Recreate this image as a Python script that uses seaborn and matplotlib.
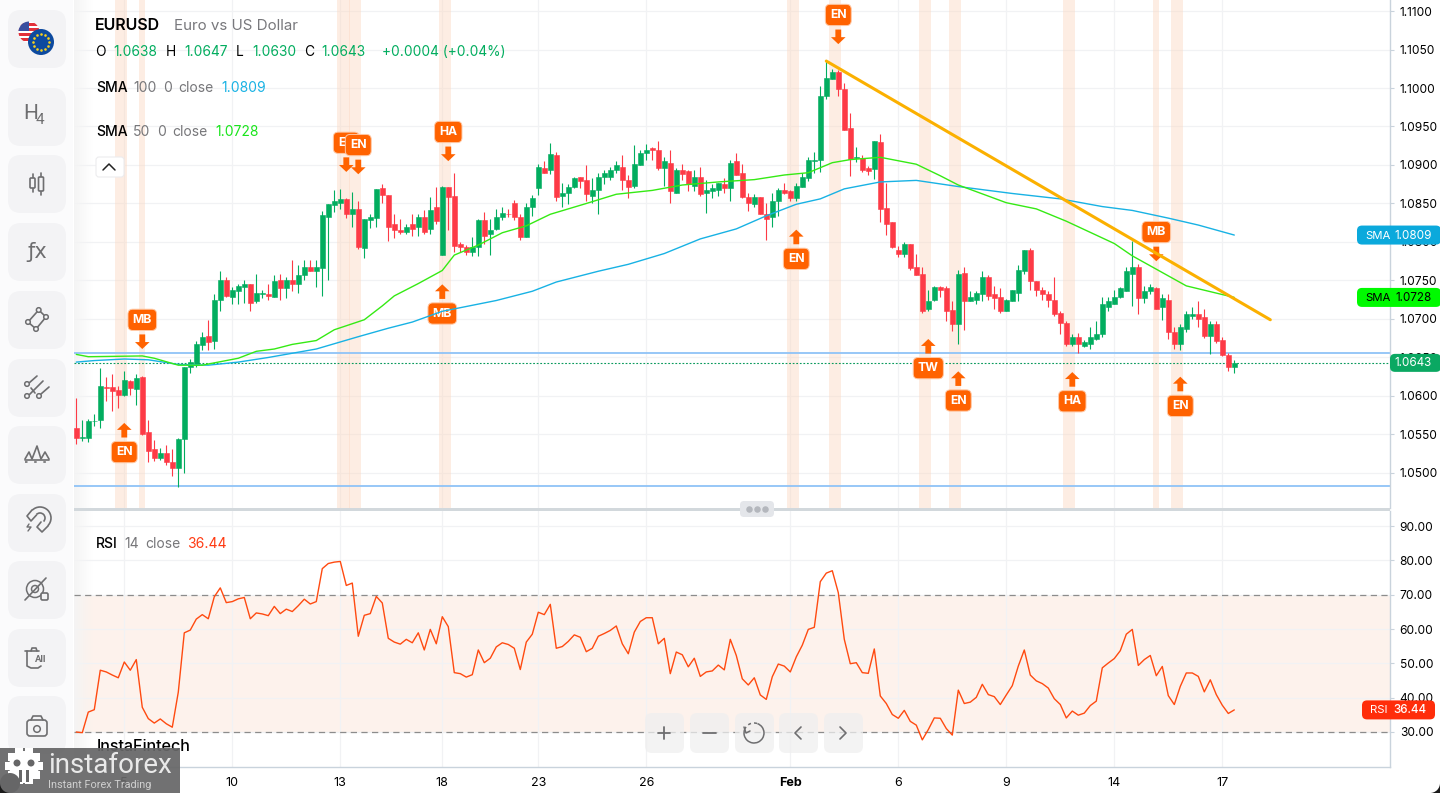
import numpy as np
import pandas as pd
import matplotlib
matplotlib.use("Agg")
import matplotlib.pyplot as plt
import seaborn as sns
from matplotlib.patches import Arc, Circle, FancyBboxPatch, Rectangle

# candles, 4h EURUSD
opens = [
    1.0559, 1.0546, 1.0546, 1.0567, 1.0569, 1.0612, 1.0612, 1.0608, 1.0601, 1.0619,
    1.0609, 1.0625, 1.0553, 1.0531, 1.0519, 1.0526, 1.0514, 1.0507, 1.0544, 1.0637,
    1.0640, 1.0666, 1.0678, 1.0672, 1.0725, 1.0751, 1.0728, 1.0736, 1.0741, 1.0745,
    1.0723, 1.0733, 1.0733, 1.0729, 1.0750, 1.0740, 1.0750, 1.0745, 1.0757, 1.0767,
    1.0762, 1.0766, 1.0832, 1.0848, 1.0850, 1.0856, 1.0837, 1.0843, 1.0792, 1.0828,
    1.0831, 1.0870, 1.0861, 1.0823, 1.0815, 1.0813, 1.0823, 1.0819, 1.0832, 1.0817,
    1.0845, 1.0783, 1.0871, 1.0860, 1.0798, 1.0794, 1.0787, 1.0793, 1.0828, 1.0811,
    1.0817, 1.0832, 1.0837, 1.0850, 1.0832, 1.0806, 1.0845, 1.0870, 1.0896, 1.0893,
    1.0913, 1.0860, 1.0863, 1.0871, 1.0884, 1.0880, 1.0860, 1.0867, 1.0884, 1.0885,
    1.0894, 1.0898, 1.0881, 1.0873, 1.0900, 1.0915, 1.0922, 1.0919, 1.0896, 1.0903,
    1.0864, 1.0893, 1.0892, 1.0873, 1.0884, 1.0863, 1.0866, 1.0867, 1.0875, 1.0870,
    1.0905, 1.0889, 1.0858, 1.0849, 1.0858, 1.0836, 1.0832, 1.0853, 1.0867, 1.0866,
    1.0857, 1.0871, 1.0883, 1.0905, 1.0907, 1.0990, 1.1012, 1.1021, 1.0999, 1.0948,
    1.0909, 1.0909, 1.0896, 1.0895, 1.0930, 1.0844, 1.0826, 1.0789, 1.0784, 1.0798,
    1.0767, 1.0759, 1.0713, 1.0725, 1.0741, 1.0740, 1.0712, 1.0693, 1.0760, 1.0723,
    1.0725, 1.0732, 1.0754, 1.0732, 1.0729, 1.0710, 1.0723, 1.0734, 1.0762, 1.0789,
    1.0749, 1.0737, 1.0733, 1.0725, 1.0708, 1.0695, 1.0668, 1.0677, 1.0665, 1.0668,
    1.0674, 1.0680, 1.0716, 1.0720, 1.0728, 1.0736, 1.0759, 1.0767, 1.0727, 1.0736,
    1.0740, 1.0715, 1.0725, 1.0683, 1.0667, 1.0687, 1.0704, 1.0707, 1.0702, 1.0678,
    1.0694, 1.0673, 1.0653, 1.0638,
]
closes = [
    1.0546, 1.0547, 1.0567, 1.0568, 1.0613, 1.0611, 1.0606, 1.0601, 1.0621, 1.0611,
    1.0623, 1.0550, 1.0528, 1.0519, 1.0526, 1.0514, 1.0506, 1.0544, 1.0638, 1.0644,
    1.0667, 1.0677, 1.0670, 1.0725, 1.0751, 1.0730, 1.0737, 1.0743, 1.0746, 1.0721,
    1.0734, 1.0734, 1.0730, 1.0749, 1.0740, 1.0750, 1.0746, 1.0757, 1.0767, 1.0762,
    1.0767, 1.0835, 1.0849, 1.0853, 1.0856, 1.0836, 1.0843, 1.0793, 1.0830, 1.0832,
    1.0869, 1.0861, 1.0820, 1.0815, 1.0813, 1.0820, 1.0817, 1.0833, 1.0813, 1.0842,
    1.0827, 1.0871, 1.0858, 1.0795, 1.0793, 1.0787, 1.0793, 1.0828, 1.0808, 1.0815,
    1.0833, 1.0838, 1.0836, 1.0832, 1.0806, 1.0845, 1.0857, 1.0897, 1.0890, 1.0914,
    1.0859, 1.0863, 1.0871, 1.0883, 1.0879, 1.0862, 1.0867, 1.0884, 1.0889, 1.0894,
    1.0900, 1.0881, 1.0871, 1.0901, 1.0915, 1.0920, 1.0919, 1.0896, 1.0905, 1.0866,
    1.0893, 1.0888, 1.0875, 1.0885, 1.0862, 1.0868, 1.0870, 1.0876, 1.0870, 1.0903,
    1.0887, 1.0859, 1.0851, 1.0859, 1.0836, 1.0830, 1.0853, 1.0867, 1.0863, 1.0857,
    1.0873, 1.0885, 1.0906, 1.0907, 1.0990, 1.1013, 1.1021, 1.0999, 1.0946, 1.0908,
    1.0910, 1.0893, 1.0892, 1.0931, 1.0843, 1.0823, 1.0794, 1.0784, 1.0797, 1.0766,
    1.0757, 1.0711, 1.0724, 1.0741, 1.0738, 1.0711, 1.0694, 1.0758, 1.0724, 1.0728,
    1.0734, 1.0754, 1.0730, 1.0727, 1.0711, 1.0725, 1.0737, 1.0764, 1.0790, 1.0749,
    1.0737, 1.0732, 1.0725, 1.0706, 1.0695, 1.0667, 1.0676, 1.0667, 1.0670, 1.0677,
    1.0681, 1.0719, 1.0724, 1.0729, 1.0740, 1.0762, 1.0768, 1.0727, 1.0736, 1.0741,
    1.0713, 1.0727, 1.0683, 1.0667, 1.0689, 1.0707, 1.0707, 1.0700, 1.0678, 1.0694,
    1.0672, 1.0653, 1.0638, 1.0643,
]
highs = [
    1.0597, 1.0569, 1.0570, 1.0577, 1.0636, 1.0624, 1.0629, 1.0613, 1.0633, 1.0621,
    1.0629, 1.0626, 1.0569, 1.0543, 1.0533, 1.0536, 1.0531, 1.0545, 1.0638, 1.0648,
    1.0671, 1.0683, 1.0699, 1.0732, 1.0762, 1.0754, 1.0741, 1.0746, 1.0751, 1.0746,
    1.0759, 1.0738, 1.0745, 1.0757, 1.0758, 1.0755, 1.0776, 1.0770, 1.0776, 1.0776,
    1.0776, 1.0840, 1.0849, 1.0867, 1.0869, 1.0857, 1.0865, 1.0853, 1.0830, 1.0836,
    1.0869, 1.0875, 1.0861, 1.0837, 1.0830, 1.0824, 1.0836, 1.0836, 1.0841, 1.0859,
    1.0871, 1.0873, 1.0871, 1.0889, 1.0800, 1.0796, 1.0807, 1.0830, 1.0839, 1.0830,
    1.0843, 1.0845, 1.0843, 1.0854, 1.0837, 1.0850, 1.0861, 1.0901, 1.0905, 1.0928,
    1.0917, 1.0877, 1.0875, 1.0884, 1.0885, 1.0900, 1.0883, 1.0889, 1.0894, 1.0897,
    1.0905, 1.0913, 1.0887, 1.0926, 1.0919, 1.0927, 1.0923, 1.0931, 1.0910, 1.0919,
    1.0896, 1.0901, 1.0893, 1.0893, 1.0897, 1.0880, 1.0875, 1.0877, 1.0883, 1.0906,
    1.0915, 1.0901, 1.0863, 1.0862, 1.0859, 1.0851, 1.0864, 1.0870, 1.0876, 1.0868,
    1.0876, 1.0890, 1.0911, 1.0917, 1.1002, 1.1035, 1.1025, 1.1023, 1.1006, 1.0967,
    1.0923, 1.0913, 1.0899, 1.0931, 1.0940, 1.0877, 1.0826, 1.0795, 1.0800, 1.0798,
    1.0784, 1.0767, 1.0737, 1.0743, 1.0743, 1.0743, 1.0724, 1.0763, 1.0767, 1.0736,
    1.0736, 1.0762, 1.0757, 1.0743, 1.0740, 1.0726, 1.0738, 1.0770, 1.0790, 1.0792,
    1.0749, 1.0742, 1.0736, 1.0754, 1.0711, 1.0697, 1.0681, 1.0682, 1.0673, 1.0690,
    1.0698, 1.0728, 1.0729, 1.0737, 1.0741, 1.0767, 1.0801, 1.0772, 1.0743, 1.0746,
    1.0741, 1.0733, 1.0733, 1.0690, 1.0693, 1.0710, 1.0715, 1.0724, 1.0713, 1.0698,
    1.0698, 1.0676, 1.0656, 1.0647,
]
lows = [
    1.0538, 1.0542, 1.0540, 1.0561, 1.0559, 1.0594, 1.0581, 1.0584, 1.0600, 1.0601,
    1.0588, 1.0549, 1.0514, 1.0516, 1.0517, 1.0510, 1.0496, 1.0482, 1.0500, 1.0630,
    1.0638, 1.0660, 1.0660, 1.0661, 1.0711, 1.0729, 1.0720, 1.0720, 1.0721, 1.0711,
    1.0721, 1.0727, 1.0725, 1.0728, 1.0725, 1.0727, 1.0736, 1.0734, 1.0751, 1.0762,
    1.0742, 1.0730, 1.0751, 1.0839, 1.0843, 1.0831, 1.0820, 1.0791, 1.0779, 1.0818,
    1.0819, 1.0850, 1.0801, 1.0805, 1.0811, 1.0810, 1.0808, 1.0808, 1.0810, 1.0810,
    1.0823, 1.0783, 1.0815, 1.0787, 1.0787, 1.0783, 1.0782, 1.0782, 1.0797, 1.0783,
    1.0815, 1.0828, 1.0832, 1.0828, 1.0802, 1.0806, 1.0834, 1.0861, 1.0889, 1.0888,
    1.0853, 1.0846, 1.0849, 1.0870, 1.0870, 1.0853, 1.0851, 1.0836, 1.0875, 1.0881,
    1.0890, 1.0868, 1.0857, 1.0870, 1.0900, 1.0907, 1.0907, 1.0893, 1.0873, 1.0851,
    1.0864, 1.0880, 1.0866, 1.0866, 1.0860, 1.0838, 1.0857, 1.0860, 1.0864, 1.0853,
    1.0887, 1.0857, 1.0840, 1.0846, 1.0836, 1.0802, 1.0820, 1.0834, 1.0862, 1.0853,
    1.0853, 1.0871, 1.0879, 1.0890, 1.0891, 1.0986, 1.1012, 1.0989, 1.0946, 1.0886,
    1.0904, 1.0891, 1.0887, 1.0882, 1.0826, 1.0809, 1.0792, 1.0780, 1.0781, 1.0764,
    1.0757, 1.0708, 1.0710, 1.0724, 1.0728, 1.0697, 1.0685, 1.0668, 1.0686, 1.0723,
    1.0720, 1.0723, 1.0725, 1.0713, 1.0708, 1.0710, 1.0723, 1.0723, 1.0759, 1.0738,
    1.0730, 1.0725, 1.0716, 1.0704, 1.0680, 1.0665, 1.0665, 1.0656, 1.0663, 1.0661,
    1.0673, 1.0676, 1.0711, 1.0720, 1.0727, 1.0736, 1.0717, 1.0706, 1.0721, 1.0732,
    1.0713, 1.0699, 1.0674, 1.0661, 1.0660, 1.0683, 1.0700, 1.0690, 1.0675, 1.0654,
    1.0669, 1.0652, 1.0633, 1.0630,
]
rsi = [
    30.0, 29.8, 35.8, 36.5, 48.0, 47.5, 46.6, 45.8, 50.4, 48.0,
    51.1, 37.2, 33.9, 32.6, 33.8, 32.4, 31.4, 41.6, 58.9, 59.7,
    62.9, 64.2, 63.0, 69.4, 72.0, 67.7, 68.0, 68.8, 69.2, 63.0,
    64.7, 64.4, 63.9, 66.6, 64.5, 65.8, 65.1, 66.8, 68.7, 67.3,
    68.0, 77.6, 79.1, 79.5, 79.7, 72.7, 73.4, 57.9, 64.0, 64.5,
    69.5, 67.6, 57.3, 56.2, 55.6, 57.0, 56.0, 58.9, 53.9, 59.9,
    55.7, 63.6, 60.7, 47.3, 47.0, 46.0, 46.7, 53.9, 50.2, 51.5,
    54.8, 56.0, 55.5, 54.4, 48.2, 56.2, 58.5, 64.9, 64.2, 67.2,
    54.4, 54.9, 56.4, 58.3, 57.6, 53.4, 54.4, 57.9, 58.7, 59.6,
    60.9, 55.7, 52.8, 59.1, 62.2, 63.3, 63.3, 55.7, 57.3, 47.0,
    53.3, 52.5, 49.0, 51.5, 46.2, 47.5, 47.8, 49.5, 48.1, 57.0,
    52.3, 45.5, 43.7, 45.8, 40.8, 39.5, 46.1, 49.8, 49.2, 47.5,
    51.9, 55.3, 59.9, 60.5, 73.8, 76.3, 77.0, 70.6, 57.0, 49.9,
    50.2, 47.3, 47.1, 54.2, 40.5, 38.3, 35.1, 34.0, 36.3, 33.1,
    32.0, 27.7, 30.7, 34.1, 34.0, 31.0, 29.1, 42.2, 38.3, 38.7,
    40.1, 43.9, 40.9, 40.3, 38.0, 40.8, 43.5, 49.2, 53.9, 46.6,
    44.9, 44.1, 42.8, 39.7, 38.0, 34.1, 36.1, 34.9, 35.5, 37.7,
    39.0, 48.7, 50.1, 51.4, 53.7, 58.5, 59.9, 49.4, 51.1, 52.3,
    46.4, 49.1, 40.6, 38.0, 43.3, 47.2, 47.2, 46.2, 41.7, 45.2,
    40.9, 37.8, 35.4, 36.44,
]

sma100_bar = [0, 3, 8, 12, 17, 22, 27, 32, 40, 47, 52, 56, 61, 70, 76, 80, 87, 92, 98, 104,
              110, 115, 120, 124, 128, 134, 140, 147, 156, 164, 171, 176, 182, 187, 193]
sma100_val = [1.0644, 1.0646, 1.0648, 1.0647, 1.0641, 1.0640, 1.0644, 1.0650, 1.0661, 1.0677,
              1.0688, 1.0696, 1.0710, 1.0724, 1.0736, 1.0748, 1.0762, 1.0771, 1.0785, 1.0804,
              1.0817, 1.0834, 1.0849, 1.0856, 1.0869, 1.0878, 1.0880, 1.0872, 1.0863, 1.0856,
              1.0846, 1.0841, 1.0831, 1.0822, 1.0809]
sma50_bar = [0, 2, 11, 13, 17, 21, 23, 27, 30, 33, 36, 40, 43, 48, 51, 53, 57, 61, 63, 67, 71,
             75, 79, 85, 90, 96, 101, 107, 113, 118, 122, 126, 129, 134, 140, 144, 147, 155,
             160, 165, 173, 176, 182, 185, 193]
sma50_val = [1.0654, 1.0651, 1.0652, 1.0649, 1.0640, 1.0640, 1.0643, 1.0649, 1.0658, 1.0661,
             1.0667, 1.0672, 1.0686, 1.0699, 1.0717, 1.0730, 1.0746, 1.0763, 1.0783, 1.0796,
             1.0812, 1.0821, 1.0836, 1.0850, 1.0862, 1.0867, 1.0874, 1.0878, 1.0881, 1.0887,
             1.0890, 1.0903, 1.0907, 1.0910, 1.0901, 1.0886, 1.0874, 1.0851, 1.0843, 1.0827,
             1.0798, 1.0782, 1.0756, 1.0743, 1.0728]

trend_bar = [125, 199]
trend_val = [1.1035, 1.0699]
support_levels = [1.0656, 1.0483]
last_price = 1.0643

band_starts = [6.5, 10.5, 43.5, 45.4, 60.5, 118.5, 125.5, 140.5, 145.5, 164.5, 179.5, 182.5]
band_ends = [8.5, 11.5, 45.6, 47.5, 62.5, 120.5, 127.5, 142.5, 147.5, 166.5, 180.5, 184.5]

signal_text = ["EN", "MB", "EN", "EN", "HA", "MB", "EN", "EN", "TW", "EN", "HA", "MB", "EN"]
signal_bar = [8, 11, 45, 47, 62, 61, 127, 120, 142, 147, 166, 180, 184]
signal_tip = [1.0565, 1.0661, 1.0891, 1.0888, 1.0905, 1.0745, 1.1057, 1.0816, 1.0674, 1.0632,
              1.0631, 1.0775, 1.0625]
signal_up = [True, False, False, False, False, True, False, True, True, True, True, False, True]

day_bars = [8, 26, 44, 61, 77, 95, 119, 137, 155, 173, 191]
day_labels = ["5", "10", "13", "18", "23", "26", "Feb", "6", "9", "14", "17"]
price_ticks = [1.05, 1.055, 1.06, 1.065, 1.07, 1.075, 1.08, 1.085, 1.09, 1.095, 1.10, 1.105, 1.11]
rsi_ticks = [30, 40, 50, 60, 70, 80, 90]

GREEN = "#02ad5f"
RED = "#fd3a46"
ORANGE = "#ff6200"
BLUE_SMA = "#18b2e4"
GREEN_SMA = "#35ea14"
ICON = "#6e6e70"
AXIS = "#c9d3dc"
GRID = "#f1f2f4"

W, H = 1440, 793
sns.set_theme(style="white")
plt.rcParams["font.family"] = ["Inter", "DejaVu Sans"]
fig = plt.figure(figsize=(14.4, 7.93), dpi=100, facecolor="white")


def pane(left, top, right, bottom):
    return fig.add_axes([left / W, 1 - bottom / H, (right - left) / W, (bottom - top) / H])


ax = pane(74, 0, 1390, 508)
ax_rsi = pane(74, 511, 1390, 767)
ui = fig.add_axes([0, 0, 1, 1], zorder=5)
ui.set_xlim(0, W)
ui.set_ylim(H, 0)
ui.axis("off")
ui.patch.set_alpha(0)

bars = np.arange(len(opens))
candles = pd.DataFrame({"bar": bars, "open": opens, "high": highs, "low": lows, "close": closes})
candles["colour"] = np.where(candles["close"] >= candles["open"], GREEN, RED)

# shaded signal bands behind everything
for start, end in zip(band_starts, band_ends):
    ax.axvspan(start, end, color="#fbd9c3", alpha=0.45, lw=0, zorder=0.8)

ax.vlines(candles["bar"], candles["low"], candles["high"], colors=candles["colour"], lw=0.8, zorder=2)
ax.bar(candles["bar"], (candles["close"] - candles["open"]).abs(),
       bottom=candles[["open", "close"]].min(axis=1), width=0.74,
       color=candles["colour"], edgecolor=candles["colour"], linewidth=0.4, zorder=2.1)

for level in support_levels:
    ax.axhline(level, color="#8fc3f7", lw=1.3, zorder=1.5)
ax.axhline(last_price, color="#0a9a5c", lw=0.8, ls=(0, (1.6, 1.6)), zorder=1.5)

for text, bar, tip, up in zip(signal_text, signal_bar, signal_tip, signal_up):
    sign = -1 if up else 1
    ax.annotate("", xy=(bar, tip), xytext=(0, sign * 10.5), textcoords="offset points", zorder=2.9,
                arrowprops=dict(facecolor=ORANGE, edgecolor="none", width=4.2, headwidth=10.5,
                                headlength=5, shrink=0))
    ax.annotate(text, xy=(bar, tip), xytext=(0, sign * 21), textcoords="offset points", ha="center",
                va="center", color="white", fontsize=8.8, fontweight="bold", zorder=2.9,
                bbox=dict(boxstyle="round,pad=0.38,rounding_size=0.4", fc=ORANGE, ec="#ffc9a6", lw=0.7))

sns.lineplot(x=sma100_bar, y=sma100_val, ax=ax, color=BLUE_SMA, lw=1.0, sort=False, errorbar=None, zorder=3)
sns.lineplot(x=sma50_bar, y=sma50_val, ax=ax, color=GREEN_SMA, lw=1.0, sort=False, errorbar=None, zorder=3)
sns.lineplot(x=trend_bar, y=trend_val, ax=ax, color="#fbb000", lw=2.2, sort=False, errorbar=None, zorder=3.2)

ax_rsi.axhspan(30, 70, color="#fdf2ec", lw=0, zorder=0.2)
ax_rsi.axhline(70, color="#8c8c8c", lw=0.9, ls=(0, (5, 3.5)), zorder=1)
ax_rsi.axhline(30, color="#8c8c8c", lw=0.9, ls=(0, (5, 3.5)), zorder=1)
sns.lineplot(x=bars, y=rsi, ax=ax_rsi, color="#ff4a10", lw=1.0, sort=False, errorbar=None, zorder=3)

# soft fade on the left edge of both panes
fade = np.ones((1, 40, 4)) * 0.96
fade[0, :, 3] = np.linspace(0.95, 0, 40)

for a in (ax, ax_rsi):
    a.imshow(fade, extent=(0, 0.014, 0, 1), transform=a.transAxes, aspect="auto", zorder=0.6)
    a.set_axisbelow(True)
    a.grid(True, color=GRID, lw=0.9)
    a.set_xlim(-0.38, 218.95)
    a.set_xticks(day_bars)
    a.yaxis.tick_right()
    a.tick_params(axis="y", length=3, width=0.8, color=AXIS, labelsize=8.6, pad=4, labelcolor="black")
    a.set_xlabel("")
    a.set_ylabel("")
    for side in ("left", "top", "bottom"):
        a.spines[side].set_visible(False)
    a.spines["right"].set_color(AXIS)
    a.spines["right"].set_linewidth(1.0)

ax.set_ylim(1.04545, 1.11143)
ax.set_yticks(price_ticks)
ax.set_yticklabels([f"{p:.4f}" for p in price_ticks])
ax.tick_params(axis="x", length=0, labelbottom=False)

ax_rsi.set_ylim(19.8, 94.4)
ax_rsi.set_yticks(rsi_ticks)
ax_rsi.set_yticklabels([f"{v:.2f}" for v in rsi_ticks])
ax_rsi.set_xticklabels(day_labels)
ax_rsi.spines["bottom"].set_visible(True)
ax_rsi.spines["bottom"].set_color(AXIS)
ax_rsi.spines["bottom"].set_linewidth(1.0)
ax_rsi.tick_params(axis="x", length=3, width=0.8, color=AXIS, labelsize=9, pad=4, labelcolor="black")
for lab in ax_rsi.get_xticklabels():
    if lab.get_text() == "Feb":
        lab.set_fontweight("bold")


def put(x, y, s, color="black", size=10.5, weight="normal", ha="left", z=6, family=None):
    kw = {"family": family} if family else {}
    return ui.text(x, y + 1.5, s, color=color, fontsize=size, fontweight=weight, ha=ha, va="center", zorder=z, **kw)


def box(x0, y0, x1, y1, color, radius=6, z=5, ec="none", lw=0, alpha=None):
    p = FancyBboxPatch((x0, y0), x1 - x0, y1 - y0, boxstyle=f"round,pad=0,rounding_size={radius}",
                       fc=color, ec=ec, lw=lw, alpha=alpha, zorder=z)
    ui.add_patch(p)
    return p


def line(xs, ys, color=ICON, lw=1.2, z=6, **kw):
    ui.plot(xs, ys, color=color, lw=lw, zorder=z, solid_capstyle="round", **kw)


def ring(x, y, r, color=ICON, lw=1.1, fc="none", z=6):
    ui.add_patch(Circle((x, y), r, fc=fc, ec=color, lw=lw, zorder=z))


def price_to_px(a, value):
    return H - a.transData.transform((0, value))[1] * W / fig.bbox.width


# legend rows
put(95, 24, "EURUSD", size=11.5, weight="semibold")
put(174, 24, "Euro vs US Dollar", color="#78787c", size=10.9)
for x, s, c in [(95, "O", "black"), (113, "1.0638", GREEN), (166, "H", "black"), (184, "1.0647", GREEN),
                (236, "L", "black"), (252, "1.0630", GREEN), (304, "C", "black"), (321, "1.0643", GREEN),
                (382, "+0.0004 (+0.04%)", GREEN)]:
    put(x, 51, s, color=c, size=9.9)
for x, s, c, w in [(96, "SMA", "black", "medium"), (133, "100", "#77777a", "normal"), (163, "0", "#77777a", "normal"),
                   (178, "close", "#77777a", "normal"), (221, "1.0809", BLUE_SMA, "normal")]:
    put(x, 86, s, color=c, size=10, weight=w)
for x, s, c, w in [(96, "SMA", "black", "medium"), (133, "50", "#77777a", "normal"), (157, "0", "#77777a", "normal"),
                   (172, "close", "#77777a", "normal"), (215, "1.0728", "#19e51b", "normal")]:
    put(x, 131, s, color=c, size=10, weight=w)
box(96, 157, 124, 177, "white", radius=3, ec="#ececee", lw=0.8)
line([103, 109, 115], [170, 164, 170], color="#222222", lw=1.1)

put(96, 543, "RSI", size=10, weight="medium")
put(124, 543, "14", color="#77777a", size=10)
put(145, 543, "close", color="#77777a", size=10)
put(187, 543, "36.44", color="#ff3a12", size=10)

# value tags on the price axes
for value, a, x0, y0h, fc, name, tc in [(1.0809, ax, 1357, 9.5, "#0ba9dc", "SMA", "white"),
                                        (1.0728, ax, 1357, 9.5, "#00fa00", "SMA", "black")]:
    yc = price_to_px(a, value)
    box(x0, yc - y0h, 1441, yc + y0h, fc, radius=5)
    put(1365, yc - 1, name, color=tc, size=8.2)
    put(1432, yc - 1, f"{value:.4f}", color=tc, size=8.4, ha="right")
yc = price_to_px(ax, last_price)
box(1390, yc - 9, 1441, yc + 9, "#0aa862", radius=5)
put(1432, yc - 1, f"{last_price:.4f}", color="white", size=8.4, ha="right")
yc = price_to_px(ax_rsi, rsi[-1])
box(1362, yc - 9.5, 1435, yc + 9.5, "#ff2d0a", radius=5)
put(1370, yc - 1, "RSI", color="white", size=8.2)
put(1426, yc - 1, f"{rsi[-1]:.2f}", color="white", size=8.4, weight="medium", ha="right")

# pane separator with handle
ui.add_patch(Rectangle((74, 507.5), 1316, 3, fc="#d2d8dc", ec="none", zorder=5))
box(740, 501, 774, 517, "#e4e6ea", radius=4)
ui.scatter([749, 757, 765], [509, 509, 509], s=22, color="#b4b7bd", linewidths=0, zorder=6)

# zoom buttons over the RSI pane
for x0, x1 in [(645, 684), (690, 729), (735, 774), (779, 818), (824, 863)]:
    box(x0, 713, x1, 753, "#efefef", radius=7, alpha=0.75)
line([658, 670], [733, 733], lw=1.3)
line([664, 664], [727, 739], lw=1.3)
line([703, 716], [733, 733], lw=1.3)
ui.add_patch(Arc((754, 733), 20, 20, theta1=-70, theta2=200, ec=ICON, lw=1.1, zorder=6))
ui.add_patch(Arc((754, 733), 20, 20, theta1=200, theta2=290, ec=ICON, lw=1.1, ls=(0, (2, 2)), zorder=6))
line([744, 746, 750], [727, 733, 731], lw=1.1)
line([801, 795, 801], [727, 733, 739], lw=1.2)
line([840, 846, 840], [727, 733, 739], lw=1.2)

put(97, 745, "InstaFintech", size=11.6, weight="medium", z=6)

# left toolbar
ui.add_patch(Rectangle((0, 0), 73, H, fc="#fbfbfc", ec="none", zorder=4.5))
for top in [10, 88, 155, 223, 291, 359, 426, 494, 561, 629, 696]:
    box(8, top, 66, top + 58, "#f3f3f5", radius=13)

# flag icon
us = Circle((29, 32), 10.5, fc="white", ec="none", zorder=6)
ui.add_patch(us)
for i in range(4):
    r = Rectangle((18, 23 + i * 5), 23, 2.6, fc="#e2303a", ec="none", zorder=6)
    ui.add_patch(r)
    r.set_clip_path(us)
canton = Rectangle((18, 21), 11, 10, fc="#3a4fa0", ec="none", zorder=6)
ui.add_patch(canton)
canton.set_clip_path(us)
ui.add_patch(Circle((41, 42), 13, fc="#0d4a9f", ec="none", zorder=6.1))
ang = np.arange(12) * np.pi / 6
ui.scatter(41 + 8.2 * np.cos(ang), 42 + 8.2 * np.sin(ang), s=3.5, color="#f8d21c", linewidths=0, zorder=6.2)

put(31, 112, "H", color=ICON, size=15, ha="center", family="Roboto")
put(40, 118, "4", color=ICON, size=11, ha="center", family="Roboto")
# candle icon
line([32.5, 32.5], [174, 192])
line([41, 41], [173, 195])
box(30, 178, 35, 188, "#f3f3f5", radius=1, z=6, ec=ICON, lw=1.2)
box(38.5, 177, 43.5, 191, "#f3f3f5", radius=1, z=6, ec=ICON, lw=1.2)
put(37, 251, "ƒx", color=ICON, size=15, ha="center", family="DejaVu Sans")
# nodes icon
for a0, b0, a1, b1 in [(38.7, 310, 46, 317), (46, 317, 36, 329), (36, 329, 28, 322), (28, 322, 38.7, 310)]:
    line([a0, a1], [b0, b1])
for a0, b0 in [(38.7, 310), (46, 317), (28, 322), (36, 329)]:
    ring(a0, b0, 2.3, fc="#f3f3f5", z=6.1)
# fork icon
line([29, 37], [383, 376])
line([29, 43], [395, 381])
line([41, 49], [394, 387])
line([31, 35], [388, 393])
for a0, b0 in [(27, 384), (27, 396), (39, 396)]:
    ring(a0, b0, 2.3, fc="#f3f3f5", z=6.1)
# peaks icon
line([25, 29, 32, 37, 41, 45, 49], [459, 452, 459, 446, 459, 452, 459])
line([25, 49], [459.5, 459.5])
line([25, 49], [462, 462], ls=(0, (1.5, 4)))
# magnet icon
ui.add_patch(Arc((40, 518), 22, 22, angle=-45, theta1=-90, theta2=90, ec=ICON, lw=1.2, zorder=6))
ui.add_patch(Arc((40, 518), 10, 10, angle=-45, theta1=-90, theta2=90, ec=ICON, lw=1.2, zorder=6))
line([32, 27, 31, 36.5], [510, 516, 521, 515])
line([48, 42, 37, 41], [526, 532, 527, 522])
line([29, 27, 31, 28], [524, 527, 527, 531], lw=1.0)
# eye icon
ring(35, 589, 8.5)
ring(35, 589, 3.5)
line([25, 46], [600, 578])
box(41, 593, 48, 600, "#f3f3f5", radius=1.5, z=6.1, ec=ICON, lw=1.2)
# trash icon
line([25, 39], [651, 651])
line([27, 27, 31, 38, 41], [651, 666, 668, 668, 666])
line([31, 32, 36, 37], [651, 648, 648, 651])
put(41, 658, "All", color=ICON, size=6.8, ha="center", weight="bold", family="Roboto")
# camera icon
box(27, 720, 47, 736, "#f3f3f5", radius=3, z=6, ec=ICON, lw=1.2)
line([31, 33, 41, 43], [720, 716, 716, 720])
ring(37, 729, 3.3)

# watermark strip
ui.add_patch(Rectangle((0, 748), 180, 45, fc="#666667", ec="none", alpha=0.93, zorder=8))
teeth = np.arange(10) * np.pi / 5
ui.scatter(24 + 15 * np.cos(teeth), 766 + 15 * np.sin(teeth), s=34, color="white", marker="s", linewidths=0, zorder=9)
ui.add_patch(Circle((24, 766), 15, fc="white", ec="none", zorder=9))
ui.add_patch(Circle((17, 763), 3.5, fc="#666667", ec="none", zorder=9.1))
ui.add_patch(Circle((31, 763), 3.5, fc="#666667", ec="none", zorder=9.1))
ui.add_patch(Rectangle((19, 770), 10, 12, fc="#666667", ec="none", zorder=9.1))
ui.add_patch(Rectangle((22, 763), 4, 20, fc="white", ec="none", zorder=9.2))
put(48, 764, "instaforex", color="#e9e9e9", size=20, z=9, family="Roboto")
put(48, 783, "Instant Forex Trading", color="#d0d0d0", size=7.8, z=9, family="Roboto")

# rounded screenshot corners
for cx, x0 in [(10, 0), (W - 10, W - 10)]:
    ui.add_patch(Rectangle((x0, H - 10), 10, 10, fc="#1a1a1a", ec="none", zorder=9.5))
    ui.add_patch(Circle((cx, H - 10), 10, fc="#666667" if cx == 10 else "white", ec="none", zorder=9.6))

ui.set_xlim(0, W)
ui.set_ylim(H, 0)
fig.savefig("out.png", dpi=100)
